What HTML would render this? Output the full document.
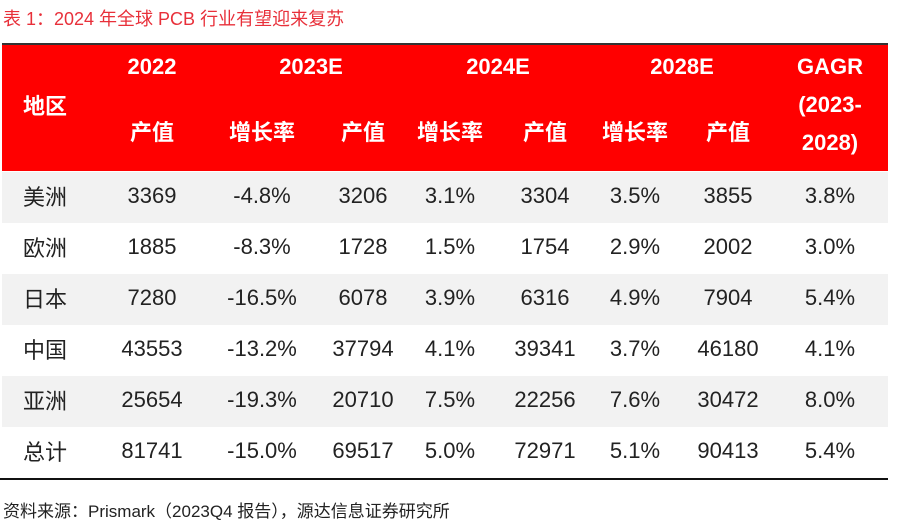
<!DOCTYPE html>
<html><head><meta charset="utf-8"><style>
body{margin:0;width:897px;height:529px;background:#fff;position:relative;overflow:hidden;font-family:"Liberation Sans","Noto Sans CJK SC",sans-serif;}
.a{position:absolute;transform:translate(-50%,-50%);white-space:nowrap;}
.h{color:#fff;font-weight:bold;font-size:22px;}
.d{color:#222;font-size:22px;}
.row{position:absolute;left:2px;width:886px;height:51px;}
</style></head><body>
<div style="position:absolute;left:3px;top:5px;color:#e8303a;font-size:18px;">表 1：2024 年全球 PCB 行业有望迎来复苏</div>
<div style="position:absolute;left:2px;top:43px;width:886px;height:128px;background:#ff0000;border-top:2px solid #333;box-sizing:border-box;"></div>
<div id="rows"></div>
<div style="position:absolute;left:0;top:478px;width:888px;height:2px;background:#111;"></div>
<div style="position:absolute;left:3px;top:497px;color:#222;font-size:17px;">资料来源：Prismark（2023Q4 报告），源达信息证券研究所</div>
<script>
const headers=[["地区",45,105],["2022",152,67],["2023E",311,67],["2024E",498,67],["2028E",682,67],["GAGR",830,67],["(2023-",830,105],["2028)",830,143],
["产值",152,131],["增长率",262,131],["产值",363,131],["增长率",450,131],["产值",545,131],["增长率",635,131],["产值",728,131]];
const regions=["美洲","欧洲","日本","中国","亚洲","总计"];
const values=[["3369","-4.8%","3206","3.1%","3304","3.5%","3855","3.8%"],
["1885","-8.3%","1728","1.5%","1754","2.9%","2002","3.0%"],
["7280","-16.5%","6078","3.9%","6316","4.9%","7904","5.4%"],
["43553","-13.2%","37794","4.1%","39341","3.7%","46180","4.1%"],
["25654","-19.3%","20710","7.5%","22256","7.6%","30472","8.0%"],
["81741","-15.0%","69517","5.0%","72971","5.1%","90413","5.4%"]];
const colX=[152,262,363,450,545,635,728,830];
const body=document.body;
headers.forEach(h=>{const e=document.createElement('div');e.className='a h';e.textContent=h[0];e.style.left=h[1]+'px';e.style.top=h[2]+'px';


body.appendChild(e);});
regions.forEach((r,i)=>{const y=172+i*51;
const bg=document.createElement('div');bg.className='row';bg.style.top=y+'px';bg.style.background=i%2===0?'#f2f2f2':'#fff';


body.appendChild(bg);
const c=document.createElement('div');c.className='a d';c.textContent=r;c.style.left='45px';c.style.top=(y+24)+'px';


body.appendChild(c);
values[i].forEach((v,j)=>{const e=document.createElement('div');e.className='a d';e.textContent=v;e.style.left=colX[j]+'px';e.style.top=(y+24)+'px';


body.appendChild(e);});});
</script>
</body></html>
